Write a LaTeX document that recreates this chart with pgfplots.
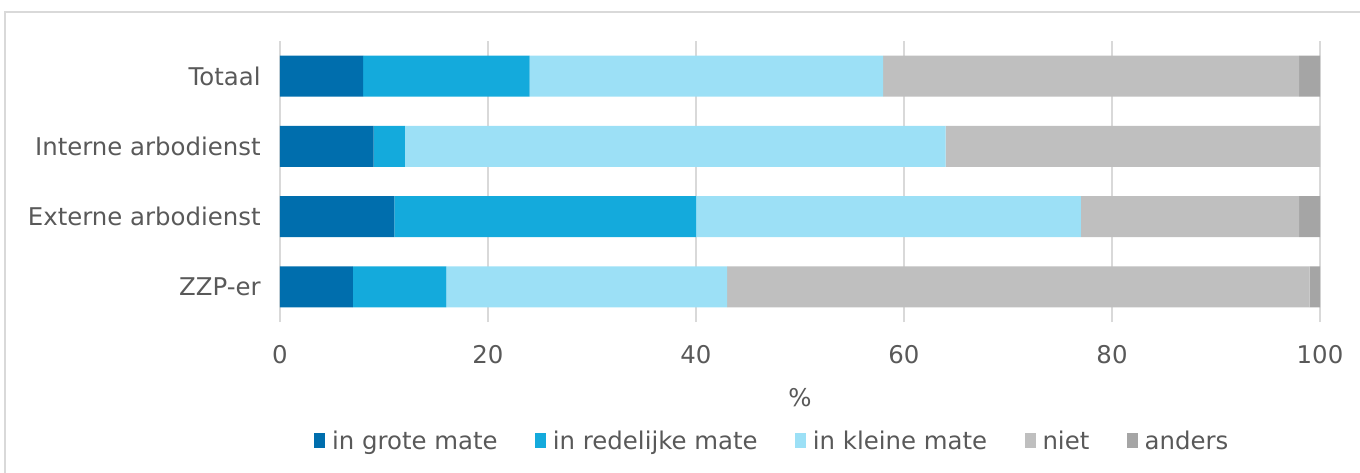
\documentclass[border=0pt]{standalone}
\usepackage{pgfplots}
\pgfplotsset{compat=1.18}
\usepackage{fontspec}
\setmainfont{DejaVu Sans}
\definecolor{c1}{HTML}{006EAD}
\definecolor{c2}{HTML}{14AADC}
\definecolor{c3}{HTML}{9CE0F6}
\definecolor{c4}{HTML}{BFBFBF}
\definecolor{c5}{HTML}{A5A5A5}
\definecolor{txt}{HTML}{595959}
\definecolor{gridc}{HTML}{D9D9D9}
\begin{document}
\begin{tikzpicture}
\useasboundingbox (0,0) rectangle (1020pt,354pt);
\draw[color=gridc, line width=1.1pt] (3.75pt,-2pt) -- (3.75pt,345pt) -- (1022pt,345pt);
\begin{axis}[
  at={(210pt,112.5pt)}, anchor=south west,
  scale only axis, width=780pt, height=210.75pt,
  xbar stacked, bar width=30.75pt,
  xmin=0, xmax=100, ymin=-0.5, ymax=3.5,
  xtick={0,20,40,60,80,100},
  ytick={0,1,2,3},
  yticklabels={ZZP-er, Externe arbodienst, Interne arbodienst, Totaal\hspace{12.5pt}},
  xmajorgrids, grid style={color=gridc, line width=1.5pt},
  axis line style={draw=none}, tick style={draw=none},
  /pgf/number format/assume math mode=true,
  ticklabel style={font=\fontsize{18.3}{21}\selectfont, text=txt},
  xticklabel style={yshift=-14pt},
  yticklabel style={xshift=-11pt},
  xlabel={\%},
  xlabel style={at={(axis description cs:0.5,0)}, anchor=center, yshift=-57pt, font=\fontsize{18.3}{21}\selectfont, text=txt},
  legend columns=5,
  legend style={at={(axis description cs:0.4736,-0.4235)}, anchor=center, draw=none, fill=none,
    font=\fontsize{18.3}{21}\selectfont, text=txt,
    /tikz/every odd column/.append style={column sep=3pt},
    /tikz/every even column/.append style={column sep=26pt},
    nodes={inner sep=2pt}},
  legend image code/.code={\fill[#1] (0pt,-5pt) rectangle (8.5pt,6pt);},
]
\addplot[fill=c1, draw=none] coordinates {(8,3) (9,2) (11,1) (7,0)};
\addplot[fill=c2, draw=none] coordinates {(16,3) (3,2) (29,1) (9,0)};
\addplot[fill=c3, draw=none] coordinates {(34,3) (52,2) (37,1) (27,0)};
\addplot[fill=c4, draw=none] coordinates {(40,3) (36,2) (21,1) (56,0)};
\addplot[fill=c5, draw=none] coordinates {(2,3) (0,2) (2,1) (1,0)};
\legend{in grote mate, in redelijke mate, in kleine mate, niet, anders}
\end{axis}
\end{tikzpicture}
\end{document}
